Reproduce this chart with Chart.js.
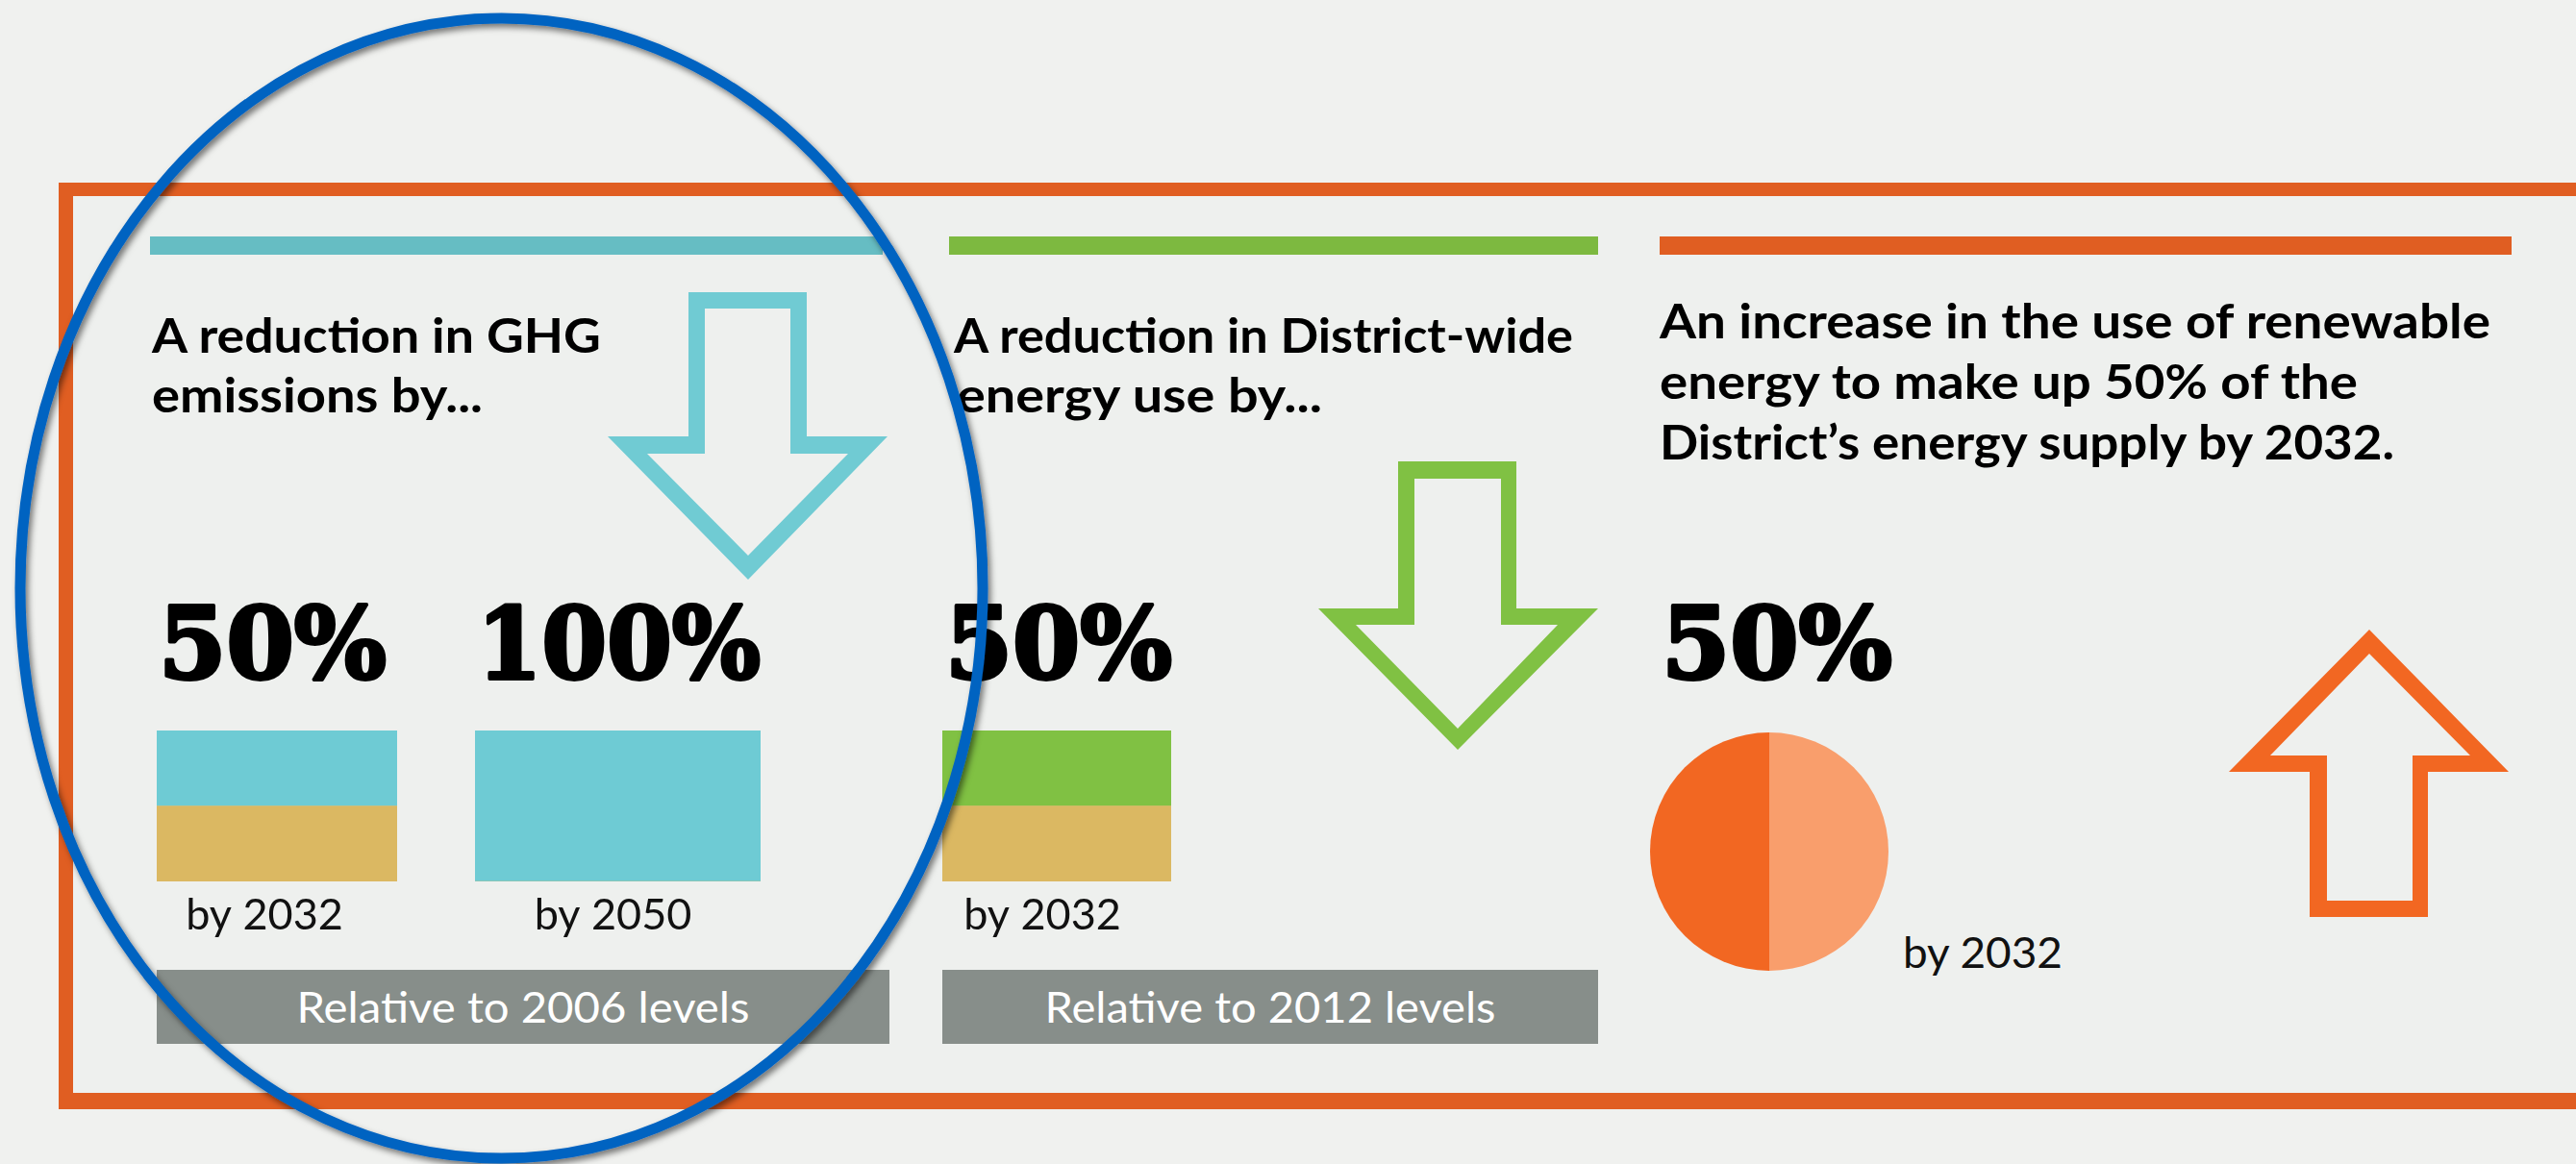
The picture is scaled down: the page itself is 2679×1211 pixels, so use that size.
<!DOCTYPE html>
<html>
<head>
<meta charset="utf-8">
<script src="https://cdn.jsdelivr.net/npm/chart.js@4.4.1/dist/chart.umd.min.js"></script>
<style>
html, body { margin: 0; padding: 0; background: #F0F1EF; }
#stage { position: relative; width: 2679px; height: 1211px; overflow: hidden; background: #F0F1EF; }
.layer { position: absolute; left: 0; top: 0; width: 2679px; height: 1211px; }
.box { position: absolute; }
.title { font-family: Lato, 'Open Sans', sans-serif; font-weight: 700; font-size: 49px; fill: #000; }
.pct { font-family: 'DejaVu Serif', serif; font-weight: 700; font-size: 103px; fill: #000; stroke: #000; stroke-width: 4px; stroke-linejoin: round; }
.lbl { font-family: Lato, sans-serif; font-weight: 400; font-size: 44px; fill: #111; }
.rel { font-family: Lato, sans-serif; font-weight: 400; font-size: 44px; fill: #fff; }
</style>
</head>
<body>
<div id="stage">
<svg id="bg" class="layer" xmlns="http://www.w3.org/2000/svg" width="2679" height="1211">
  <rect x="61" y="190" width="2618" height="964" fill="#EEF0EE"/>
  <!-- frame -->
  <rect x="61" y="190" width="2618" height="14" fill="#E05E22"/>
  <rect x="61" y="190" width="15" height="964" fill="#E05E22"/>
  <rect x="61" y="1137" width="2618" height="17" fill="#E05E22"/>
  <!-- column header rules -->
  <rect x="156" y="246" width="762" height="19" fill="#66BDC3"/>
  <rect x="987" y="246" width="675" height="19" fill="#7DB940"/>
  <rect x="1726" y="246" width="886" height="19" fill="#E05E22"/>
  <!-- arrows -->
  <path fill="#70CBD3" fill-rule="evenodd" d="M716,304 H839 V454 H923 L778,603 L632,454 H716 Z M733,321 H822 V472 H882 L778,578 L673,472 H733 Z"/>
  <path fill="#80C143" fill-rule="evenodd" d="M1454,480 H1577 V633 H1662 L1516,780 L1371,633 H1454 Z M1471,498 H1561 V650 H1620 L1516,758 L1410,650 H1471 Z"/>
  <path fill="#F26722" fill-rule="evenodd" d="M2464,655 L2609,803 H2525 V954 H2402 V803 H2318 Z M2464,680 L2569,786 H2509 V937 H2420 V786 H2361 Z"/>
  <!-- titles -->
  <text class="title" x="158" y="367" textLength="467" lengthAdjust="spacingAndGlyphs">A reduction in GHG</text>
  <text class="title" x="158" y="429" textLength="344" lengthAdjust="spacingAndGlyphs">emissions by...</text>
  <text class="title" x="992" y="367" textLength="644" lengthAdjust="spacingAndGlyphs">A reduction in District-wide</text>
  <text class="title" x="995" y="429" textLength="380" lengthAdjust="spacingAndGlyphs">energy use by...</text>
  <text class="title" x="1726" y="352" textLength="864" lengthAdjust="spacingAndGlyphs">An increase in the use of renewable</text>
  <text class="title" x="1726" y="415" textLength="726" lengthAdjust="spacingAndGlyphs">energy to make up 50% of the</text>
  <text class="title" x="1726" y="478" textLength="764" lengthAdjust="spacingAndGlyphs">District’s energy supply by 2032.</text>
  <!-- gray "relative to" boxes -->
  <rect x="163" y="1009" width="762" height="77" fill="#878E8A"/>
  <rect x="980" y="1009" width="682" height="77" fill="#878E8A"/>
  <g id="dynText"></g>
</svg>

<div class="box" id="bar1" style="left:163px;top:760px;width:250px;height:227px"><canvas id="cv1"></canvas></div>
<div class="box" id="bar2" style="left:494px;top:760px;width:297px;height:227px"><canvas id="cv2"></canvas></div>
<div class="box" id="bar3" style="left:980px;top:760px;width:238px;height:227px"><canvas id="cv3"></canvas></div>
<div class="box" id="pie1" style="left:1716px;top:762px;width:248px;height:248px"><canvas id="cv4"></canvas></div>

<svg id="fg" class="layer" xmlns="http://www.w3.org/2000/svg" width="2679" height="1211" style="pointer-events:none">
  <defs>
    <filter id="sh" x="-10%" y="-10%" width="120%" height="120%">
      <feDropShadow dx="3" dy="4" stdDeviation="3" flood-color="#000" flood-opacity="0.5"/>
    </filter>
  </defs>
  <ellipse cx="521.5" cy="612" rx="500.5" ry="593" fill="none" stroke="#0563C1" stroke-width="11" filter="url(#sh)"/>
</svg>
</div>

<script>
// ---- data ----
const ghgCategories = ['by 2032', 'by 2050'];
const ghgReduction = [50, 100];
const ghgRemaining = [50, 0];
const ghgBaseline = 'Relative to 2006 levels';

const energyCategories = ['by 2032'];
const energyReduction = [50];
const energyRemaining = [50];
const energyBaseline = 'Relative to 2012 levels';

const renewableLabels = ['Other sources', 'Renewable energy'];
const renewableShare = [50, 50];
const renewableYear = 'by 2032';

// ---- colours ----
const TEAL = '#6ECBD4', GREEN = '#80C143', TAN = '#DBB862';
const PIE_LIGHT = '#F99E6C', PIE_DARK = '#F26722';

Chart.defaults.font.family = 'Lato, sans-serif';

function barChart(canvasId, label, reduced, remaining, topColor, labelShift) {
  return new Chart(document.getElementById(canvasId), {
    type: 'bar',
    data: {
      labels: [label],
      datasets: [
        { label: 'Remaining', data: [remaining], backgroundColor: TAN, stack: 's', borderWidth: 0 },
        { label: 'Reduction', data: [reduced], backgroundColor: topColor, stack: 's', borderWidth: 0 }
      ]
    },
    options: {
      responsive: true, maintainAspectRatio: false, animation: false,
      layout: { padding: 0 },
      plugins: { legend: { display: false }, tooltip: { enabled: false } },
      datasets: { bar: { barPercentage: 1, categoryPercentage: 1 } },
      scales: {
        x: {
          stacked: true,
          grid: { display: false, drawTicks: false },
          border: { display: false },
          ticks: { font: { family: 'Lato', size: 45 }, color: '#111', padding: 8, maxRotation: 0, labelOffset: labelShift }
        },
        y: { stacked: true, display: false, min: 0, max: 100 }
      }
    }
  });
}

barChart('cv1', ghgCategories[0], ghgReduction[0], ghgRemaining[0], TEAL, -13);
barChart('cv2', ghgCategories[1], ghgReduction[1], ghgRemaining[1], TEAL, -5);
barChart('cv3', energyCategories[0], energyReduction[0], energyRemaining[0], GREEN, -15);

new Chart(document.getElementById('cv4'), {
  type: 'pie',
  data: {
    labels: renewableLabels,
    datasets: [{ data: renewableShare, backgroundColor: [PIE_LIGHT, PIE_DARK], borderWidth: 0 }]
  },
  options: {
    responsive: true, maintainAspectRatio: false, animation: false,
    layout: { padding: 0 },
    plugins: { legend: { display: false }, tooltip: { enabled: false } }
  }
});

// ---- data-derived text ----
const NS = 'http://www.w3.org/2000/svg';
const g = document.getElementById('dynText');
function addText(cls, x, y, str, len, anchor) {
  const t = document.createElementNS(NS, 'text');
  t.setAttribute('class', cls);
  t.setAttribute('x', x); t.setAttribute('y', y);
  if (len) { t.setAttribute('textLength', len); t.setAttribute('lengthAdjust', 'spacingAndGlyphs'); }
  if (anchor) t.setAttribute('text-anchor', anchor);
  t.textContent = str;
  g.appendChild(t);
}
addText('pct', 165, 706, ghgReduction[0] + '%', 237);
addText('pct', 496, 706, ghgReduction[1] + '%', 295);
addText('pct', 983, 706, energyReduction[0] + '%', 236);
addText('pct', 1728, 706, renewableShare[1] + '%', 240);
addText('lbl', 1979, 1007, renewableYear, 166);
addText('rel', 544, 1064, ghgBaseline, 471, 'middle');
addText('rel', 1321, 1064, energyBaseline, 469, 'middle');
</script>
</body>
</html>
